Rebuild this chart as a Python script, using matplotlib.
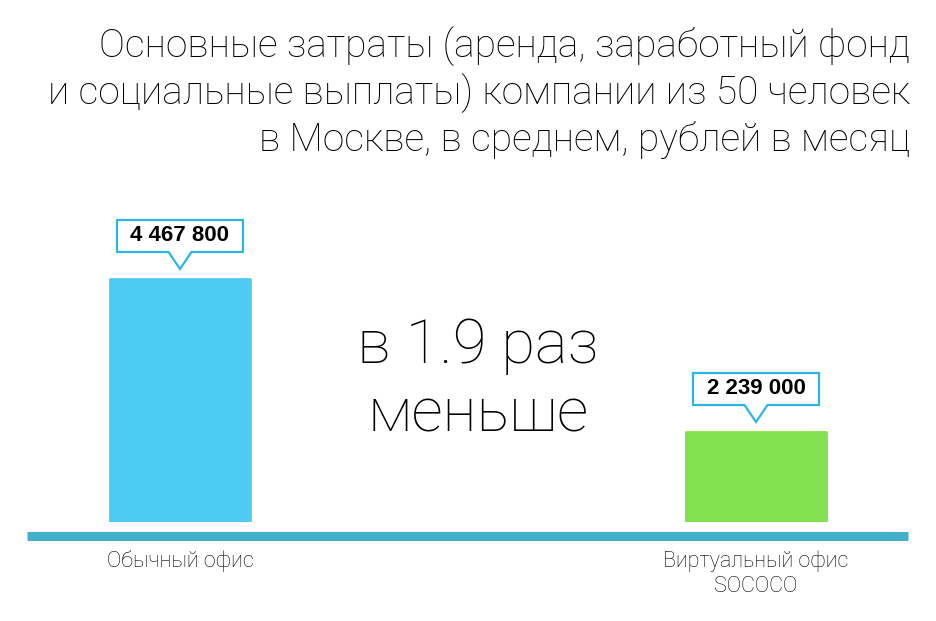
"""Bar chart: monthly costs, regular office vs virtual office."""

import matplotlib

matplotlib.use("Agg")
import matplotlib.pyplot as plt  # noqa: E402
import matplotlib.transforms as mtransforms  # noqa: E402
from matplotlib.patches import Polygon  # noqa: E402

# data
categories = ["Обычный офис", "Виртуальный офис\nSOCOCO"]
costs = [4467800, 2239000]
value_labels = ["4 467 800", "2 239 000"]
bar_colors = ["#4ECBF3", "#83E04F"]
title_lines = [
    "Основные затраты (аренда, заработный фонд",
    "и социальные выплаты) компании из 50 человек",
    "в Москве, в среднем, рублей в месяц",
]
ratio_lines = ["в 1.9 раз", "меньше"]

LIGHT = ["Roboto", "DejaVu Sans"]
BOLD = ["Liberation Sans", "DejaVu Sans"]

W, H = 936, 621
fig = plt.figure(figsize=(W / 100, H / 100), dpi=100)
# axes spans the baseline strip horizontally, bar bottoms to upper area vertically
ax = fig.add_axes([27 / W, (H - 522) / H, 881 / W, 362 / H])
ax.set_xlim(-0.2656, 1.2639)
ax.set_ylim(928000, 6201000)
ax.axis("off")

x = list(range(len(costs)))
ax.bar(x, costs, width=0.243, color=bar_colors, edgecolor=bar_colors,
       linewidth=2, joinstyle="round")

# baseline strip
ax.plot([0, 1], [-0.0373, -0.0373], transform=ax.transAxes, color="#45B0CB",
        lw=6.5, solid_capstyle="butt", clip_on=False)

# callouts (shape in pixels relative to bar top)
px = 0.72  # pixels -> points at 100 dpi
shape = [(0, 10), (-11.5, 27), (-63, 27), (-63, 59), (63, 59), (63, 27), (11.5, 27)]
for xi, v, lab in zip(x, costs, value_labels):
    tr = mtransforms.ScaledTranslation(xi, v, ax.transData)
    poly = Polygon(shape, closed=True, facecolor="white", edgecolor="#2BB6E6",
                   linewidth=1.6, joinstyle="miter", transform=tr, clip_on=False)
    ax.add_patch(poly)
    ax.annotate(lab, xy=(xi, v), xytext=(0, 43 * px), textcoords="offset points",
                ha="center", va="center", fontsize=16, fontweight="bold",
                family=BOLD, color="black")

# category labels under the strip
for xi, cat in zip(x, categories):
    ax.annotate(cat, xy=(xi, 0), xycoords=("data", "axes fraction"),
                xytext=(0, -28 * px), textcoords="offset points",
                ha="center", va="top", fontsize=15.5, family=LIGHT,
                fontweight="light", linespacing=1.3, color="black")

# title, right aligned
for i, line in enumerate(title_lines):
    fig.text(910 / W, 1 - (57 + 47 * i) / H, line, ha="right", va="baseline",
             fontsize=28, family=LIGHT, fontweight="light", color="black")

# ratio text in the middle
for i, line in enumerate(ratio_lines):
    fig.text(478 / W, 1 - (363 + 69 * i) / H, line, ha="center", va="baseline",
             fontsize=44.5, family=LIGHT, fontweight="light", color="black")

fig.savefig("out.png", dpi=100)
plt.close(fig)
